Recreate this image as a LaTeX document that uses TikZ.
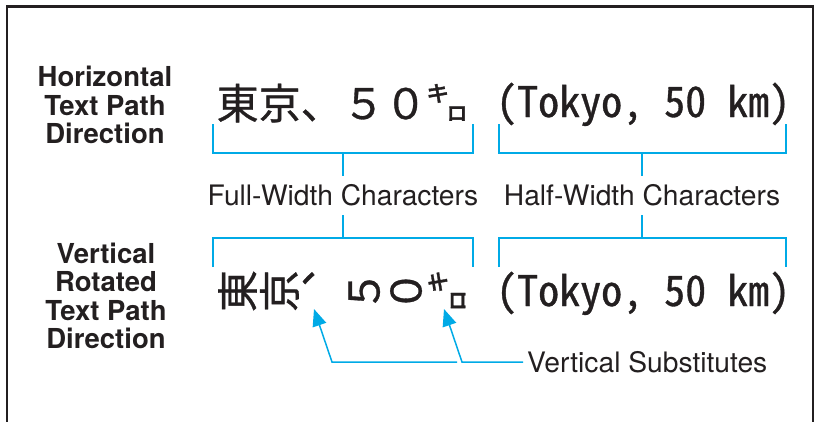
\documentclass[tikz,border=0pt]{standalone}
\usepackage{fontspec}
\setmainfont{TeX Gyre Heros}
\newfontfamily\jpfont[FakeBold=0.8]{Noto Sans CJK JP}
\newfontfamily\jphalffont[RawFeature=+hwid,FakeBold=0.8]{Noto Sans CJK JP}
\newfontfamily\jpvertfont[RawFeature=+vert,FakeBold=0.8]{Noto Sans CJK JP}
\newcommand\halfset{\jphalffont\fontsize{42}{42}\selectfont\fontdimen2\font=21pt\fontdimen3\font=0pt\fontdimen4\font=0pt}
\usetikzlibrary{arrows.meta}
\definecolor{inkblack}{RGB}{35,31,32}
\definecolor{guideblue}{RGB}{0,170,230}

\begin{document}
\begin{tikzpicture}[x=1pt,y=-1pt,
    dir_label/.style={font=\bfseries\fontsize{27.5}{28.4}\selectfont,align=center,inner sep=0pt,text=inkblack},
    cap_label/.style={font=\fontsize{28.2}{28}\selectfont,inner sep=0pt,text=inkblack},
    full_text/.style={font=\jpfont\fontsize{42}{42}\selectfont,inner sep=0pt,text=inkblack},
    half_text/.style={font=\halfset,inner sep=0pt,text=inkblack},
    vert_glyph/.style={font=\jpvertfont\fontsize{42}{42}\selectfont,inner sep=0pt,text height=36.96pt,text depth=5.04pt,rotate=90,text=inkblack},
    brk/.style={draw=guideblue,line width=1.5pt},
    arr/.style={draw=guideblue,line width=1.5pt,-{Triangle[length=17pt,width=14pt]}}]

    \useasboundingbox (0,0) rectangle (815,421);
    \draw[inkblack,line width=2.5pt] (7,440) -- (7,6.5) -- (813,6.5) -- (813,440);

    \node[dir_label] (hdir) at (105,105) {Horizontal\\Text Path\\Direction};
    \node[dir_label] (vdir) at (106,296) {Vertical\\Rotated\\Text Path\\Direction};

    \node[full_text,anchor=base west] (hfull) at (216.5,119) {東京、５０㌔};
    \node[half_text,anchor=base west] (hhalf) at (496,117) {(Tokyo, 50 km)};

    \foreach \c [count=\i] in {東,京,、,５,０,㌔}
        \node[vert_glyph] (v\i) at (195.5+42*\i,291) {\c};
    \node[half_text,anchor=base west] (vhalf) at (496,306) {(Tokyo, 50 km)};

    \node[cap_label,minimum height=39pt] (fullcap) at (343,195.5) {Full-Width Characters};
    \node[cap_label,minimum height=39pt] (halfcap) at (642,195.5) {Half-Width Characters};
    \node[cap_label,anchor=west,inner xsep=4pt] (vsub) at (523,362) {Vertical Substitutes};

    \coordinate (ftop) at (343,153);
    \coordinate (fbot) at (343,238);
    \coordinate (htop) at (642,153);
    \coordinate (hbot) at (642,238);
    \draw[brk] (213,124) |- (ftop) -| (473,124);
    \draw[brk] (ftop) -- (fullcap.north);
    \draw[brk] (fullcap.south) -- (fbot);
    \draw[brk] (213,267) |- (fbot) -| (473,267);
    \draw[brk] (499,124) |- (htop) -| (786,124);
    \draw[brk] (htop) -- (halfcap.north);
    \draw[brk] (halfcap.south) -- (hbot);
    \draw[brk] (499,267) |- (hbot) -| (786,267);

    \coordinate (bend1) at (332,362);
    \coordinate (bend2) at (462,362);
    \coordinate (join1) at (457,362);
    \coordinate (tip1) at (314,309);
    \coordinate (tip2) at (444,309);
    \draw[arr] (vsub.west) -- (bend2) -- (tip2);
    \draw[arr] (join1) -- (bend1) -- (tip1);

\end{tikzpicture}
\end{document}
